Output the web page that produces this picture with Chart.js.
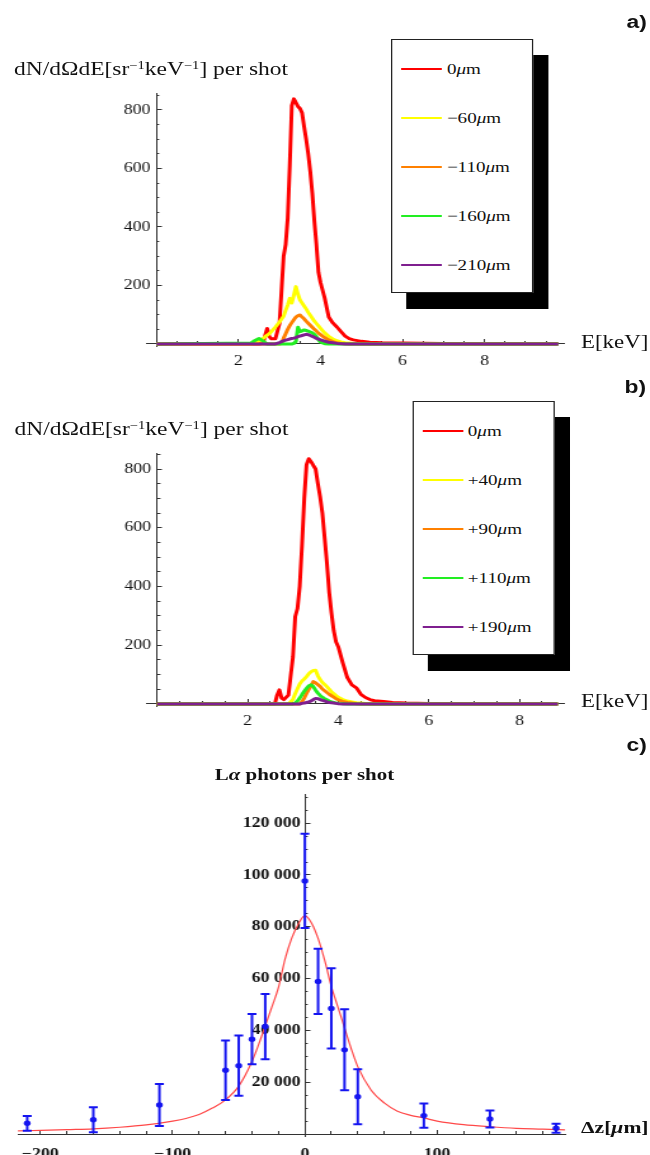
<!DOCTYPE html>
<html><head><meta charset="utf-8">
<script src="https://cdn.jsdelivr.net/npm/chart.js@4.4.1/dist/chart.umd.min.js"></script>
<style>
html,body{margin:0;padding:0;background:#fff;overflow:hidden;width:650px;height:1155px}
#stage{position:absolute;left:0;top:0;width:512px;height:1155px;transform:scaleX(1.26953125);transform-origin:0 0}
.panel{position:absolute;left:0;width:512px}
.txt{position:absolute;white-space:nowrap;color:#111;font-family:'Liberation Serif','Times New Roman',serif;line-height:20px}
.tag{position:absolute;font:bold 18px 'Liberation Sans',Arial,sans-serif;line-height:20px;color:#111}
.legend{position:absolute;width:112px;height:254px;background:#fff;border:1px solid #222;box-sizing:border-box}
.shadow{position:absolute;width:112px;height:254px;background:#000}
.lrow{position:absolute;left:0;width:110px;height:20px}
.lline{position:absolute;left:7px;width:32px;height:2px;top:9px}
.ltext{position:absolute;left:43px;top:0;font-size:15px;font-family:'Liberation Serif','Times New Roman',serif;line-height:20px;color:#111;white-space:nowrap}
sup{font-size:0.62em;position:relative;top:-0.5em;vertical-align:baseline;line-height:0}
</style></head>
<body>
<div id="stage">
  <div class="panel" style="top:0;height:380px"><canvas id="chartA"></canvas></div>
  <div class="panel" style="top:380px;height:380px"><canvas id="chartB"></canvas></div>
  <div class="panel" style="top:760px;height:395px"><canvas id="chartC"></canvas></div>

  <div class="tag" style="left:493.5px;top:11.5px">a)</div>
  <div class="tag" style="left:492px;top:376.5px">b)</div>
  <div class="tag" style="left:493.5px;top:735px">c)</div>

  <div class="txt" style="left:11px;top:58.8px;font-size:18.5px">dN/dΩdE[sr<sup>−1</sup>keV<sup>−1</sup>] per shot</div>
  <div class="txt" style="left:11.4px;top:419px;font-size:18.5px">dN/dΩdE[sr<sup>−1</sup>keV<sup>−1</sup>] per shot</div>
  <div class="txt" style="left:457.7px;top:332px;font-size:18px">E[keV]</div>
  <div class="txt" style="left:457.7px;top:691.4px;font-size:18px">E[keV]</div>
  <div class="txt" style="left:89.85px;width:300px;text-align:center;top:765px;font-size:16.5px;font-weight:bold">L<i>α</i> photons per shot</div>
  <div class="txt" style="left:457.7px;top:1117.6px;font-size:17px;font-weight:bold">Δz[<i>μ</i>m]</div>

  <div class="shadow" style="left:320.2px;top:55px"></div>
  <div class="legend" id="legendA" style="left:308px;top:39px"></div>
  <div class="shadow" style="left:336.7px;top:417px"></div>
  <div class="legend" id="legendB" style="left:324.5px;top:401px"></div>
</div>
<script>
// ---------- Panel a) data ----------
const energyA = [0, 2.3, 2.4, 2.5, 2.6, 2.65, 2.7, 2.75, 2.8, 2.9, 3.0, 3.05, 3.1, 3.15, 3.2, 3.25, 3.3, 3.35, 3.4, 3.45, 3.5, 3.55, 3.6, 3.65, 3.7, 3.75, 3.8, 3.85, 3.9, 3.95, 4.0, 4.1, 4.2, 4.3, 4.4, 4.5, 4.6, 4.7, 4.8, 5.0, 5.2, 5.5, 6.0, 7.0, 8.0, 9.8];
const redA    = [0,0,0,0,2, 30,53,25,18,18, 70,185,300,340,430, 610,815,838,825,812, 805,790,743,700,650, 590,515,420,340,245, 210,158,92,72,58, 42,27,18,14,9, 6,4,3,2,1, 1];
const yellowA = [0,0,3,10,19, 25,30,35,42,58, 75,85,95,115,133, 156,140,167,196,170, 150,140,130,120,108, 98,88,78,70,62, 53,38,26,17,11, 7,4,3,2,1, 0,0,0,0,0, 0];
const orangeA = [0,0,0,0,0, 0,0,0,0,0, 0,2,20,35,50, 63,73,83,92,97, 99,92,86,78,71, 64,57,50,44,37, 32,22,14,8,4, 2,1,0,0,0, 0,0,0,0,0, 0];
const greenA  = [0,3,12,19,10, 4,0,0,0,0, 0,0,0,0,0, 0,0,2,8,57, 42,45,48,46,44, 41,38,33,25,14, 6,1,0,0,0, 0,0,0,0,0, 0,0,0,0,0, 0];
const purpleA = [0,0,0,0,0, 0,0,0,0,0, 5,8,11,13,15, 17,19,20,22,25, 27,29,31,33,32, 29,26,23,19,17, 14,10,6,4,2, 1,0,0,0,0, 0,0,0,0,0, 0];
const labelsA = ['0', '−60', '−110', '−160', '−210'];

// ---------- Panel b) data ----------
const energyB = [0, 2.3, 2.4, 2.5, 2.6, 2.65, 2.7, 2.75, 2.8, 2.9, 3.0, 3.05, 3.1, 3.15, 3.2, 3.25, 3.3, 3.35, 3.4, 3.45, 3.5, 3.55, 3.6, 3.65, 3.7, 3.75, 3.8, 3.85, 3.9, 3.95, 4.0, 4.1, 4.2, 4.3, 4.4, 4.5, 4.6, 4.7, 4.8, 5.0, 5.2, 5.5, 6.0, 7.0, 8.0, 8.85];
const redB    = [0,0,0,0,0, 30,48,20,15,30, 160,297,325,400,540, 700,815,835,825,812, 800,750,705,650,565, 480,380,310,250,212, 195,140,90,65,55, 33,22,15,11,8, 5,3,2,1,1, 0];
const yellowB = [0,0,0,0,0, 0,0,0,0,0, 15,35,52,68,78, 85,93,103,110,114, 115,96,83,73,66, 59,50,42,35,29, 23,15,10,7,4, 3,2,1,0,0, 0,0,0,0,0, 0];
const orangeB = [0,0,0,0,0, 0,0,0,0,0, 0,0,0,0,8, 20,36,50,62,76, 72,66,60,51,45, 39,33,28,23,18, 14,9,5,3,1, 0,0,0,0,0, 0,0,0,0,0, 0];
const greenB  = [0,0,0,0,0, 0,0,0,0,0, 0,3,10,20,32, 43,53,62,65,59, 47,37,29,23,18, 14,10,7,5,3, 2,1,0,0,0, 0,0,0,0,0, 0,0,0,0,0, 0];
const purpleB = [0,0,0,0,0, 0,0,0,0,0, 0,0,0,0,2, 3,5,7,10,15, 19,18,15,12,10, 7,5,4,3,2, 1,0,0,0,0, 0,0,0,0,0, 0,0,0,0,0, 0];
const labelsB = ['0', '+40', '+90', '+110', '+190'];

const seriesColors = ['#ff0000', '#ffff00', '#ff8000', '#22ee22', '#7f1f8f'];

// ---------- Panel c) data ----------
const dzPoints     = [-210, -160, -110, -60, -50, -40, -30, 0, 10, 20, 30, 40, 90, 140, 190];
const photonCounts = [4150, 5500, 11200, 24600, 26400, 36600, 41500, 97700, 58900, 48500, 32500, 14400, 7100, 5800, 2200];
const photonErrors = [2850, 4800, 8100, 11500, 11600, 9700, 12600, 18200, 12600, 15450, 15650, 10600, 4700, 3300, 1750];
const fitDz      = [-218, -200, -180, -160, -140, -120, -100, -90, -80, -70, -60, -50, -40, -35, -30, -25, -20, -15, -10, -5, 0, 5, 10, 15, 20, 25, 30, 35, 40, 50, 60, 70, 80, 90, 100, 120, 140, 160, 180, 197];
const fitPhotons = [1200, 1400, 1700, 2000, 2600, 3500, 5000, 6000, 7500, 10000, 13200, 18500, 28000, 34500, 41700, 49000, 56500, 67500, 75500, 81000, 84300, 81500, 75500, 67000, 57000, 49000, 41000, 33000, 26000, 17000, 12000, 8800, 7200, 6200, 5000, 3600, 2800, 2200, 1900, 1600];

// ---------- tick labels ----------
const ticksAX = [2, 4, 6, 8];
const ticksAY = [200, 400, 600, 800];
const ticksBX = [2, 4, 6, 8];
const ticksBY = [200, 400, 600, 800];
const ticksCX = [-200, -100, 0, 100];
const ticksCY = [20000, 40000, 60000, 80000, 100000, 120000];

function minorTicks(from, to, step, majorStep) {
  const out = [];
  for (let k = Math.round(from / step); k * step <= to + 1e-9; k++) {
    const v = +(k * step).toFixed(6);
    if (Math.abs(v / majorStep - Math.round(v / majorStep)) > 1e-6) out.push(v);
  }
  return out;
}

const AX = '#333';
const SERIF = "'Liberation Serif','Times New Roman',serif";
const STAGE_W = 512;

function scalePair(dir, min, max, pos, major, minor, majorLen, minorLen, labelFn, font, pad) {
  const base = {type: 'linear', axis: dir, min: min, max: max, position: pos, bounds: 'data'};
  const main = Object.assign({}, base, {
    grid: {display: true, drawOnChartArea: false, drawTicks: true, tickLength: -majorLen, tickColor: AX, tickWidth: 1},
    border: {display: true, color: AX, width: 1},
    ticks: {display: true, autoSkip: false, maxRotation: 0, minRotation: 0, padding: pad, color: '#111', font: font, callback: (v) => labelFn(v)},
    afterBuildTicks: (s) => { s.ticks = major.map(v => ({value: v})); }
  });
  const sub = Object.assign({}, base, {
    grid: {display: true, drawOnChartArea: false, drawTicks: true, tickLength: -minorLen, tickColor: AX, tickWidth: 1},
    border: {display: false},
    ticks: {display: false},
    afterBuildTicks: (s) => { s.ticks = minor.map(v => ({value: v})); }
  });
  return [main, sub];
}

function padding(area, panelTop, panelH) {
  return {left: area.left, right: STAGE_W - area.right, top: area.top - panelTop, bottom: panelH - (area.bottom - panelTop)};
}

function spectrumChart(id, energy, series, xr, yr, area, panelTop, panelH, xMajor, yMajor) {
  const font = {family: SERIF, size: 14};
  const [x, x2] = scalePair('x', xr[0], xr[1], {y: 0}, xMajor, minorTicks(0.5, xr[1], 0.5, 2), 5, 3, v => String(v), font, 13.6);
  const [y, y2] = scalePair('y', yr[0], yr[1], {x: 0}, yMajor, minorTicks(50, yr[1], 50, 200), 4.5, 2.4, v => String(v) + '\u2004', font, 0);
  return new Chart(document.getElementById(id), {
    type: 'line',
    data: {
      datasets: series.map((vals, i) => ({
        data: energy.map((e, j) => ({x: e, y: vals[j]})),
        borderColor: seriesColors[i], borderWidth: 3, pointRadius: 0, tension: 0, fill: false,
        borderJoinStyle: 'round', order: 5 - i, xAxisID: 'x', yAxisID: 'y'
      }))
    },
    options: {
      responsive: true, maintainAspectRatio: false, animation: false, events: [],
      layout: {padding: padding(area, panelTop, panelH)},
      plugins: {legend: {display: false}, tooltip: {enabled: false}},
      scales: {x: x, x2: x2, y: y, y2: y2}
    }
  });
}

spectrumChart('chartA', energyA, [redA, yellowA, orangeA, greenA, purpleA],
  [-0.25, 9.94], [-10, 858], {left: 115.2, right: 444.3, top: 93, bottom: 346.9}, 0, 380, ticksAX, ticksAY);
spectrumChart('chartB', energyB, [redB, yellowB, orangeB, greenB, purpleB],
  [-0.23, 8.98], [-10, 854.5], {left: 115.5, right: 444.1, top: 453, bottom: 706.9}, 380, 380, ticksBX, ticksBY);

// legends built from the label arrays
function buildLegend(id, labels) {
  const box = document.getElementById(id);
  labels.forEach((lab, i) => {
    const row = document.createElement('div');
    row.className = 'lrow';
    row.style.top = (28.5 + 49 * i - 10) + 'px';
    row.innerHTML = '<div class="lline" style="background:' + seriesColors[i] + '"></div>' +
      '<div class="ltext">' + lab + '<i>μ</i>m</div>';
    box.appendChild(row);
  });
}
buildLegend('legendA', labelsA);
buildLegend('legendB', labelsB);

// ---------- Panel c) ----------
function thousands(v) {
  const s = String(Math.abs(v)).replace(/\B(?=(\d{3})+(?!\d))/g, ' ');
  return (v < 0 ? '−' : '') + s;
}
(function () {
  const font = {family: SERIF, size: 14, weight: 'bold'};
  const [x, x2] = scalePair('x', -217, 197, {y: 0}, ticksCX, minorTicks(-200, 197, 20, 100), 5, 3, v => thousands(v), font, 16.8);
  const [y, y2] = scalePair('y', -1000, 131000, {x: 0}, ticksCY, minorTicks(5000, 131000, 5000, 20000), 4.5, 2.4, v => thousands(v) + '\u2005', font, 0);
  const blue = '#1414f0';
  const bars = [], caps = [], dots = [];
  dzPoints.forEach((z, i) => {
    const lo = photonCounts[i] - photonErrors[i], hi = photonCounts[i] + photonErrors[i];
    bars.push({x: z, y: lo}, {x: z, y: hi}, {x: z, y: null});
    caps.push({x: z, y: lo}, {x: z, y: hi});
    dots.push({x: z, y: photonCounts[i]});
  });
  new Chart(document.getElementById('chartC'), {
    type: 'line',
    data: {
      datasets: [
        {data: fitDz.map((z, i) => ({x: z, y: fitPhotons[i]})), borderColor: '#ff4848', borderWidth: 1.2,
         pointRadius: 0, tension: 0.4, cubicInterpolationMode: 'monotone', fill: false, order: 4},
        {data: bars, borderColor: blue, borderWidth: 2, pointRadius: 0, spanGaps: false, fill: false, order: 3},
        {data: caps, showLine: false, pointStyle: 'line', pointRadius: 3.5, pointBorderWidth: 2, pointBorderColor: blue, order: 2},
        {data: dots, showLine: false, pointStyle: 'circle', pointRadius: 2.7, pointBorderWidth: 0, pointBackgroundColor: blue, order: 1}
      ]
    },
    options: {
      responsive: true, maintainAspectRatio: false, animation: false, events: [],
      layout: {padding: padding({left: 13.5, right: 445.3, top: 794.7, bottom: 1136.6}, 760, 395)},
      plugins: {legend: {display: false}, tooltip: {enabled: false}},
      scales: {x: x, x2: x2, y: y, y2: y2}
    }
  });
})();
</script>
</body></html>
